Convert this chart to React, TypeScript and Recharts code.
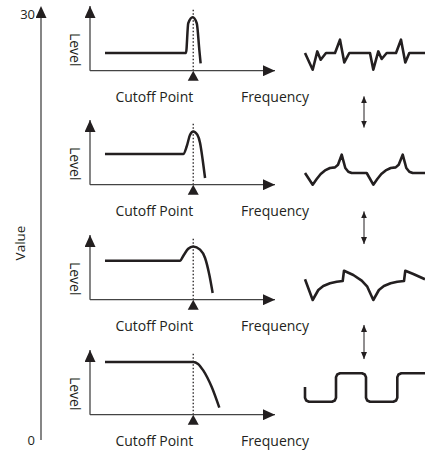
import { ComposedChart, LineChart, Line, XAxis, YAxis, ReferenceLine, ReferenceDot } from 'recharts';

const INK = '#231f20';
const AXIS = '#444444';
const FONT = '"Open Sans", sans-serif';

// outer value axis
const valueTicks = [0, 30];

// filter responses (frequency 0-100, level 0-100)
const cutoff = 55.8;
const cutoffGuide = 95;

const response1 = [
  { f: 8.1, level: 27.5 },
  { f: 51.9, level: 27.5 },
  { f: 53.1, level: 73.3 },
  { f: 55.5, level: 82.5 },
  { f: 57.7, level: 73.3 },
  { f: 59.1, level: 32.0 },
  { f: 59.8, level: 11.4 },
];
const response2 = [
  { f: 8.1, level: 47.4 },
  { f: 50.4, level: 47.4 },
  { f: 52.3, level: 59.4 },
  { f: 54.1, level: 77.3 },
  { f: 55.8, level: 82.4 },
  { f: 58.0, level: 77.3 },
  { f: 59.5, level: 64.5 },
  { f: 60.9, level: 38.6 },
  { f: 62.2, level: 10.4 },
];
const response3 = [
  { f: 8.1, level: 60.3 },
  { f: 48.6, level: 60.3 },
  { f: 50.8, level: 69.6 },
  { f: 53.1, level: 78.8 },
  { f: 55.8, level: 82.4 },
  { f: 59.5, level: 77.3 },
  { f: 62.2, level: 64.5 },
  { f: 64.5, level: 38.6 },
  { f: 66.3, level: 10.4 },
];
const response4 = [
  { f: 8.1, level: 81.3 },
  { f: 55.8, level: 81.3 },
  { f: 58.4, level: 78.5 },
  { f: 61.2, level: 68.5 },
  { f: 65.8, level: 42.7 },
  { f: 69.9, level: 10.8 },
];

// output waveforms (time 0-120, amplitude -20..20)
const wave1 = [
  { t: 0, v: 0 }, { t: 7.7, v: -16.7 }, { t: 12.3, v: 1.6 }, { t: 15.7, v: -6.7 }, { t: 21, v: 0 },
  { t: 30, v: 0 }, { t: 35, v: 13.3 }, { t: 39.3, v: -9.4 }, { t: 44.3, v: 0 }, { t: 65, v: 0 },
  { t: 68.3, v: -16.7 }, { t: 73.3, v: 1.6 }, { t: 76.7, v: -6 }, { t: 81.7, v: 0 }, { t: 91, v: 0 },
  { t: 96, v: 13.3 }, { t: 100.3, v: -9.4 }, { t: 104.3, v: 0 }, { t: 120, v: 0 },
];
const wave2 = [
  { t: 0, v: 0 }, { t: 7.7, v: -11.7 }, { t: 11.7, v: -6 }, { t: 15.7, v: -1 }, { t: 20, v: 2.6 },
  { t: 25, v: 5 }, { t: 30, v: 5.6 }, { t: 33, v: 8.3 }, { t: 36.7, v: 18.3 }, { t: 40.3, v: 5 },
  { t: 43.3, v: 1.3 }, { t: 46.7, v: 0 }, { t: 61.7, v: 0 }, { t: 68.3, v: -11.7 }, { t: 72.3, v: -6 },
  { t: 76.3, v: -1 }, { t: 80.7, v: 2.6 }, { t: 85.7, v: 5 }, { t: 90.7, v: 5.6 }, { t: 93.7, v: 8.3 },
  { t: 97.7, v: 18.3 }, { t: 101.3, v: 5 }, { t: 104.3, v: 1.3 }, { t: 107.7, v: 0 }, { t: 120, v: 0 },
];
const wave3 = [
  { t: 0, v: 5.7 }, { t: 7.7, v: -15 }, { t: 13.3, v: -5 }, { t: 18.3, v: -1 }, { t: 25, v: 1.7 },
  { t: 31.7, v: 3.3 }, { t: 37.7, v: 4 }, { t: 39, v: 14.3 }, { t: 48.3, v: 10 }, { t: 56.7, v: 4.3 },
  { t: 62.3, v: -1.7 }, { t: 68.3, v: -15 }, { t: 73.9, v: -5 }, { t: 78.9, v: -1 }, { t: 85.6, v: 1.7 },
  { t: 92.3, v: 3.3 }, { t: 99, v: 4 }, { t: 100.3, v: 14.3 }, { t: 108.3, v: 11 }, { t: 120, v: 5.7 },
];
const wave4 = [
  { t: 0, v: 0 }, { t: 0, v: -10.7 }, { t: 1.2, v: -13.5 }, { t: 4, v: -14.7 }, { t: 27, v: -14.7 },
  { t: 29.8, v: -13.5 }, { t: 31, v: -10.7 }, { t: 31, v: 9.7 }, { t: 32.2, v: 12.5 }, { t: 35, v: 13.7 },
  { t: 57, v: 13.7 }, { t: 59.8, v: 12.5 }, { t: 61, v: 9.7 }, { t: 61, v: -10.7 }, { t: 62.2, v: -13.5 },
  { t: 65, v: -14.7 }, { t: 88.3, v: -14.7 }, { t: 91.1, v: -13.5 }, { t: 92.3, v: -10.7 }, { t: 92.3, v: 9.7 },
  { t: 93.5, v: 12.5 }, { t: 96.3, v: 13.7 }, { t: 120, v: 13.7 },
];

// double arrows between waveforms (on the value scale)
const linkX = 323;
const linkTop = [24.2, 16.1, 8.1];
const linkBottom = [22.0, 13.8, 5.7];

const responses = [response1, response2, response3, response4];
const waves = [wave1, wave2, wave3, wave4];
const panelTop = [0, 114, 229, 344];
const waveTop = [28, 148, 260, 362];

const Head = ({ id, w, h, refX }: { id: string; w: number; h: number; refX: number }) => (
  <marker id={id} viewBox={`0 0 ${w} ${h}`} refX={refX} refY={h / 2} markerWidth={w} markerHeight={h}
    markerUnits="userSpaceOnUse" orient="auto-start-reverse">
    <path d={`M0,0 L${w},${h / 2} L0,${h} Z`} fill={INK} />
  </marker>
);

const textStyle = { fontFamily: FONT, fontSize: 14, fill: INK };

function CutoffMarker(props: any) {
  const { cx, cy } = props;
  return (
    <g>
      <path d={`M${cx},${cy} L${cx + 5.5},${cy + 10} L${cx - 5.5},${cy + 10} Z`} fill={INK} />
      <text x={cx} y={cy + 31} textAnchor="end" style={textStyle}>Cutoff Point</text>
    </g>
  );
}

function FilterPanel({ data, top, id }: { data: any[]; top: number; id: string }) {
  return (
    <div style={{ position: 'absolute', left: 0, top }}>
      <LineChart width={325} height={110} data={data} margin={{ top: 6, right: 50, bottom: 19.3, left: 60 }}>
        <defs>
          <Head id={id} w={12} h={11} refX={12} />
        </defs>
        <XAxis type="number" dataKey="f" domain={[0, 100]} tick={false} tickLine={false} height={20}
          axisLine={{ stroke: AXIS, strokeWidth: 1.3, markerEnd: `url(#${id})` }}
          label={() => <text x={275} y={101.7} textAnchor="middle" style={textStyle}>Frequency</text>} />
        <YAxis type="number" domain={[0, 100]} tick={false} tickLine={false} width={30}
          axisLine={{ stroke: AXIS, strokeWidth: 1.3, markerStart: `url(#${id})` }}
          label={() => (
            <text x={75} y={49.7} transform="rotate(90 75 49.7)" textAnchor="middle" dominantBaseline="central" style={textStyle}>Level</text>
          )} />
        <ReferenceLine segment={[{ x: cutoff, y: 0 }, { x: cutoff, y: cutoffGuide }]} stroke={INK}
          strokeWidth={1.3} strokeDasharray="1.5 2" />
        <Line type="monotone" dataKey="level" stroke={INK} strokeWidth={2.5} dot={false} isAnimationActive={false} />
        <ReferenceDot x={cutoff} y={0} r={5} shape={CutoffMarker} />
      </LineChart>
    </div>
  );
}

function Wave({ data, top }: { data: any[]; top: number }) {
  return (
    <div style={{ position: 'absolute', left: 300, top }}>
      <LineChart width={125} height={50} data={data} margin={{ top: 5, right: 0, bottom: 5, left: 5 }}>
        <XAxis type="number" dataKey="t" domain={[0, 120]} hide />
        <YAxis type="number" domain={[-20, 20]} hide />
        <Line type="linear" dataKey="v" stroke={INK} strokeWidth={2.6} strokeLinejoin="round" dot={false} isAnimationActive={false} />
      </LineChart>
    </div>
  );
}

export default function App() {
  return (
    <div style={{ position: 'absolute', left: 0, top: 0, width: 425, height: 451, background: '#fff', fontFamily: FONT }}>
      <ComposedChart width={425} height={451} margin={{ top: 14, right: 0, bottom: 11, left: 0 }}>
        <defs>
          <Head id="value-head" w={12} h={11} refX={4} />
          <Head id="link-head" w={7} h={6} refX={7} />
        </defs>
        <XAxis type="number" dataKey="x" domain={[0, 384]} hide allowDataOverflow />
        <YAxis type="number" domain={[0, 30]} ticks={valueTicks} width={41} tickLine={false} tickSize={4} tickMargin={2}
          allowDataOverflow
          axisLine={{ stroke: AXIS, strokeWidth: 1.3, markerStart: 'url(#value-head)' }}
          tick={{ fill: INK, fontSize: 13, fontFamily: FONT }}
          label={() => (
            <text x={20} y={243} transform="rotate(-90 20 243)" textAnchor="middle" dominantBaseline="central"
              style={{ fontFamily: FONT, fontSize: 13.5, fill: INK }}>Value</text>
          )} />
        {linkTop.map((y, i) => (
          <Line key={i} data={[{ x: linkX, y }, { x: linkX, y: linkBottom[i] }]} dataKey="y" type="linear"
            stroke={INK} strokeWidth={1} dot={false} isAnimationActive={false}
            markerStart="url(#link-head)" markerEnd="url(#link-head)" />
        ))}
      </ComposedChart>
      {responses.map((d, i) => (
        <FilterPanel key={i} data={d} top={panelTop[i]} id={`panel-head-${i}`} />
      ))}
      {waves.map((d, i) => (
        <Wave key={i} data={d} top={waveTop[i]} />
      ))}
    </div>
  );
}
